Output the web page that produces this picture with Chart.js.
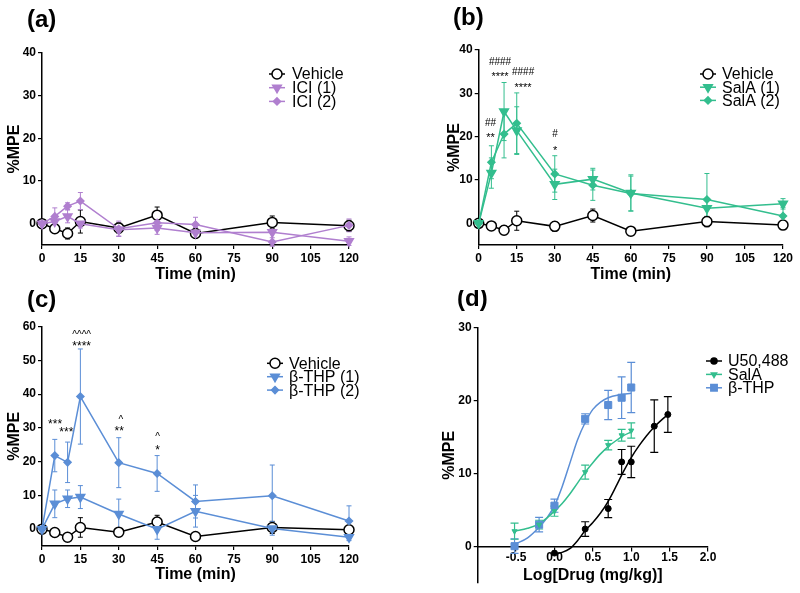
<!DOCTYPE html>
<html><head><meta charset="utf-8">
<script src="https://cdn.jsdelivr.net/npm/chart.js@4/dist/chart.umd.min.js"></script>
<style>
html,body{margin:0;padding:0;background:#fff;overflow:hidden;width:800px;height:593px;position:relative;}
.panel{position:absolute;overflow:hidden;}
.lbl{position:absolute;font-family:"Liberation Sans",Arial,sans-serif;font-weight:bold;font-size:24px;line-height:24px;color:#000;white-space:nowrap;}
canvas{display:block;}
</style></head><body>
<div class="panel" style="left:0;top:0;width:400px;height:290px"><canvas id="ca" width="400" height="290"></canvas><div class="lbl" style="left:27px;top:7px">(a)</div></div>
<div class="panel" style="left:400px;top:0;width:400px;height:290px"><canvas id="cb" width="400" height="290"></canvas><div class="lbl" style="left:53px;top:5px">(b)</div></div>
<div class="panel" style="left:0;top:290px;width:400px;height:303px"><canvas id="cc" width="400" height="303"></canvas><div class="lbl" style="left:27px;top:-3px">(c)</div></div>
<div class="panel" style="left:400px;top:290px;width:400px;height:303px"><canvas id="cd" width="400" height="303"></canvas><div class="lbl" style="left:57px;top:-4px">(d)</div></div>
<script>
const FONT = '"Liberation Sans", Arial, Helvetica, sans-serif';

// ---------- DATA ----------
const timeMin = [0, 5, 10, 15, 30, 45, 60, 90, 120];
const timeTicks = [0, 15, 30, 45, 60, 75, 90, 105, 120];

// (a)
const vehicleA    = [0, -1.2, -2.3, 0.5, -1.0, 2.0, -2.3, 0.3, -0.5];
const vehicleAErr = [0, 0.8, 1.3, 2.7, 1.2, 1.9, 1.0, 1.5, 1.3];
const ici1        = [0, 0.5, 1.7, 0.0, -1.4, -1.0, -2.1, -2.0, -4.1];
const ici1Err     = [0, 1.2, 1.5, 1.0, 1.5, 1.5, 1.2, 2.0, 1.0];
const ici2        = [0, 1.7, 4.1, 5.3, -1.2, 0.2, -0.2, -4.3, -0.4];
const ici2Err     = [0, 2.0, 0.8, 2.0, 1.8, 1.8, 1.7, 1.0, 1.5];

// (b)
const vehicleB    = [0, -0.6, -1.6, 0.6, -0.7, 1.8, -1.8, 0.4, -0.4];
const vehicleBErr = [0, 0.8, 1.0, 2.2, 1.1, 1.5, 0.4, 1.2, 0.8];
const salA1       = [0, 11.6, 25.8, 21.4, 9.0, 10.2, 7.0, 3.5, 4.5];
const salA1Err    = [0, 3.5, 6.7, 5.5, 3.5, 2.5, 4.2, 2.0, 1.2];
const salA2       = [0, 14.1, 20.6, 23.1, 11.4, 8.8, 6.9, 5.5, 1.7];
const salA2Err    = [0, 3.8, 5.5, 7.0, 4.2, 3.5, 4.0, 6.0, 2.0];
const annBText = ['##', '**', '####', '****', '####', '****', '#', '*'];
const annBX    = [4.7, 4.7, 8.4, 8.4, 17.5, 17.5, 30.1, 30.1];
const annBY    = [23.4, 20.5, 37.3, 34.5, 35.0, 32.1, 20.8, 17.5];

// (c)
const vehicleC    = [0, -1.0, -2.4, 0.5, -0.9, 2.1, -2.2, 0.5, -0.2];
const vehicleCErr = [0, 0.6, 1.0, 2.9, 1.3, 2.0, 0.6, 1.8, 1.0];
const thp1        = [0, 7.5, 9.0, 9.5, 4.5, 0.0, 5.3, 0.2, -2.4];
const thp1Err     = [0, 4.1, 2.6, 3.4, 4.4, 3.0, 4.7, 2.0, 1.0];
const thp2        = [0, 21.8, 19.8, 39.3, 19.7, 16.5, 8.2, 9.9, 2.4];
const thp2Err     = [0, 4.8, 6.0, 14.1, 7.4, 5.3, 4.9, 9.1, 4.5];
const annCText = ['***', '***', '^^^^', '****', '^', '**', '^', '*'];
const annCX    = [5.1, 9.5, 15.5, 15.5, 30.8, 30.2, 45.2, 45.2];
const annCY    = [32.1, 29.6, 58.2, 55.1, 32.9, 30.0, 27.9, 24.4];

// (d) dose-response
const u50LogDose = [0, 0.4, 0.7, 0.875, 1.0, 1.3, 1.477];
const u50Mpe     = [-0.9, 2.4, 5.2, 11.6, 11.6, 16.5, 18.1];
const u50Err     = [0, 1.0, 1.25, 1.7, 2.15, 3.6, 2.45];
const salLogDose = [-0.52, -0.2, 0, 0.4, 0.7, 0.875, 1.0];
const salMpe     = [2.1, 3.0, 4.85, 10.2, 13.9, 15.25, 15.9];
const salErr     = [1.1, 0.6, 0.7, 0.95, 0.65, 0.8, 1.05];
const thpLogDose = [-0.52, -0.2, 0, 0.4, 0.7, 0.875, 1.0];
const thpMpe     = [0.05, 3.0, 5.6, 17.5, 19.4, 20.4, 21.8];
const thpErr     = [1.0, 1.0, 0.9, 0.7, 2.0, 2.85, 3.45];
// fitted curves
const u50FitX = [0, 0.1, 0.2, 0.3, 0.4, 0.5, 0.6, 0.7, 0.8, 0.9, 1.0, 1.1, 1.2, 1.3, 1.4, 1.48];
const u50FitY = [-1.0, -0.8, -0.3, 0.8, 2.2, 3.3, 4.6, 6.2, 8.2, 10.3, 12.2, 13.8, 15.2, 16.4, 17.4, 18.1];
const salFitX = [-0.52, -0.35, -0.2, -0.1, 0, 0.1, 0.2, 0.3, 0.4, 0.5, 0.6, 0.7, 0.8, 0.9, 1.0];
const salFitY = [2.1, 2.5, 3.1, 3.9, 4.85, 5.9, 7.2, 8.7, 10.2, 11.5, 12.7, 13.7, 14.5, 15.2, 15.7];
const thpFitX = [-0.52, -0.35, -0.2, -0.1, 0, 0.1, 0.2, 0.3, 0.4, 0.5, 0.6, 0.7, 0.85, 1.0];
const thpFitY = [0.3, 1.2, 2.65, 3.9, 5.6, 8.2, 11.4, 14.6, 17.0, 18.8, 19.8, 20.4, 20.8, 21.0];

// ---------- STYLE ----------
const PURPLE = '#B07FCF', GREEN = '#33BE8E', BLUE = '#5B8ED6', BLACK = '#000000';

Chart.defaults.font.family = FONT;
Chart.defaults.color = '#000';

const errorBars = {
  id: 'errorBars',
  beforeDatasetsDraw(chart, args, o) {
    const ctx = chart.ctx, xs = chart.scales.x, ys = chart.scales.y;
    const cap = o.cap || 2.5;
    chart.data.datasets.slice().reverse().forEach(ds => {
      if (!ds.errors) return;
      ctx.save();
      ctx.strokeStyle = ds.errColor || ds.borderColor;
      ctx.lineWidth = o.width || 1;
      ds.data.forEach((p, i) => {
        const e = ds.errors[i]; if (!e) return;
        const x = xs.getPixelForValue(p.x);
        const yt = ys.getPixelForValue(p.y + e), yb = ys.getPixelForValue(p.y - e);
        ctx.beginPath();
        ctx.moveTo(x, yt); ctx.lineTo(x, yb);
        ctx.moveTo(x - cap, yt); ctx.lineTo(x + cap, yt);
        ctx.moveTo(x - cap, yb); ctx.lineTo(x + cap, yb);
        ctx.stroke();
      });
      ctx.restore();
    });
  }
};

const annot = {
  id: 'annot',
  afterDatasetsDraw(chart, args, o) {
    if (!o.text) return;
    const ctx = chart.ctx, xs = chart.scales.x, ys = chart.scales.y;
    ctx.save(); ctx.fillStyle = '#000'; ctx.textAlign = 'center'; ctx.textBaseline = 'alphabetic';
    o.text.forEach((t, i) => {
      const size = t[0] === '#' ? o.hashSize : (t[0] === '^' ? o.caretSize : o.size);
      ctx.font = size + 'px ' + FONT;
      const k = t[0] === '*' ? 0.58 : (t[0] === '^' ? 0.52 : 0.36);
      ctx.fillText(t, xs.getPixelForValue(o.xs[i]), ys.getPixelForValue(o.ys[i]) + k * size);
    });
    ctx.restore();
  }
};

function marker(ctx, style, r, rot, x, y) {
  if (Chart.helpers && Chart.helpers.drawPoint) {
    Chart.helpers.drawPoint(ctx, {pointStyle: style, radius: r, rotation: rot, borderWidth: 1.5}, x, y);
    return;
  }
  ctx.beginPath(); ctx.arc(x, y, r, 0, Math.PI * 2); ctx.fill(); ctx.stroke();
}

const customLegend = {
  id: 'customLegend',
  afterDraw(chart, args, o) {
    const ctx = chart.ctx;
    ctx.save();
    o.order.forEach((idx, k) => {
      const ds = chart.data.datasets[idx];
      const y = o.y + k * o.dy;
      ctx.strokeStyle = ds.borderColor; ctx.lineWidth = 1.5;
      ctx.beginPath(); ctx.moveTo(o.x, y); ctx.lineTo(o.x + o.w, y); ctx.stroke();
      ctx.fillStyle = ds.pointBackgroundColor; ctx.strokeStyle = ds.pointBorderColor || ds.borderColor;
      marker(ctx, ds.pointStyle, ds.legendRadius || ds.pointRadius, ds.pointRotation || 0, o.x + o.w / 2, y);
      ctx.fillStyle = '#000'; ctx.font = o.size + 'px ' + FONT; ctx.textBaseline = 'middle'; ctx.textAlign = 'left';
      ctx.fillText(ds.legendLabel || ds.label, o.x + o.w + o.gap, y + 1);
    });
    ctx.restore();
  }
};

function series(label, values, errs, color, style, radius, rot, fill) {
  return {
    label, data: values.map((v, i) => ({x: timeMin[i], y: v})), errors: errs,
    borderColor: color, backgroundColor: fill, errColor: color,
    pointStyle: style, pointRadius: radius, pointRotation: rot,
    pointBorderColor: color, pointBackgroundColor: fill, pointBorderWidth: 1.5,
    borderWidth: 1.5, tension: 0, clip: false
  };
}

const tickFont = {family: FONT, size: 12, weight: 'bold'};
const titleFont = {family: FONT, size: 16, weight: 'bold'};

function yAxis(min, max, step, width, titlePad, minTick) {
  return {
    type: 'linear', min, max,
    ticks: {stepSize: step, color: '#000', font: tickFont, padding: 2},
    afterBuildTicks: s => { s.ticks = s.ticks.filter(t => t.value >= minTick - 1e-9); },
    afterFit: s => { s.width = width; },
    grid: {drawOnChartArea: false, drawTicks: true, tickLength: 4, color: '#000', lineWidth: 1.2},
    border: {display: true, color: '#000', width: 1.5},
    title: {display: true, text: '%MPE', color: '#000', font: titleFont, padding: {top: titlePad, bottom: 0}}
  };
}
function xTime(height, titlePad) {
  return {
    type: 'linear', min: 0, max: 120,
    afterBuildTicks: s => { s.ticks = timeTicks.map(v => ({value: v})); },
    ticks: {stepSize: 15, color: '#000', font: tickFont, padding: 2, autoSkip: false, maxRotation: 0},
    afterFit: s => { s.height = height; },
    grid: {drawOnChartArea: false, drawTicks: true, tickLength: 4, color: '#000', lineWidth: 1.2},
    border: {display: true, color: '#000', width: 1.5},
    title: {display: true, text: 'Time (min)', color: '#000', font: titleFont, padding: {top: 0, bottom: titlePad}}
  };
}

function timeChart(id, datasets, pad, yMax, yW, xH, yTitlePad, xTitlePad, legend, ann) {
  return new Chart(document.getElementById(id), {
    type: 'line',
    data: {datasets},
    options: {
      responsive: false, animation: false, devicePixelRatio: 1,
      layout: {padding: pad},
      scales: {x: xTime(xH, xTitlePad), y: yAxis(-5, yMax, 10, yW, yTitlePad, 0)},
      plugins: {legend: {display: false}, tooltip: {enabled: false},
        errorBars: {cap: 2.5, width: 1}, customLegend: legend, annot: ann || {}}
    },
    plugins: [errorBars, annot, customLegend]
  });
}

// (a)
timeChart('ca', [
  series('ICI (2)', ici2, ici2Err, PURPLE, 'rectRot', 3.5, 0, PURPLE),
  series('ICI (1)', ici1, ici1Err, PURPLE, 'triangle', 5, 180, PURPLE),
  series('Vehicle', vehicleA, vehicleAErr, BLACK, 'circle', 5, 0, '#fff')
], {top: 53, right: 51, bottom: 0, left: 0}, 40, 42, 45, 5.4, 5.4,
  {order: [2, 1, 0], x: 269, w: 16, gap: 7, y: 74, dy: 13.7, size: 16});

// (b)
timeChart('cb', [
  series('SalA (2)', salA2, salA2Err, GREEN, 'rectRot', 3.5, 0, GREEN),
  series('SalA (1)', salA1, salA1Err, GREEN, 'triangle', 5, 180, GREEN),
  series('Vehicle', vehicleB, vehicleBErr, BLACK, 'circle', 5, 0, '#fff')
], {top: 50, right: 17, bottom: 0, left: 0}, 40, 78.7, 45, 45.4, 5.4,
  {order: [2, 1, 0], x: 300, w: 16, gap: 6, y: 74, dy: 13.2, size: 16},
  {text: annBText, xs: annBX, ys: annBY, size: 11, hashSize: 10, caretSize: 10});

// (c)
timeChart('cc', [
  series('\u03B2-THP (2)', thp2, thp2Err, BLUE, 'rectRot', 3.5, 0, BLUE),
  series('\u03B2-THP (1)', thp1, thp1Err, BLUE, 'triangle', 5, 180, BLUE),
  series('Vehicle', vehicleC, vehicleCErr, BLACK, 'circle', 5, 0, '#fff')
], {top: 36.7, right: 51, bottom: 0, left: 0}, 60, 42, 47, 5.4, 8.4,
  {order: [2, 1, 0], x: 267, w: 16, gap: 6, y: 73.3, dy: 13.4, size: 16},
  {text: annCText, xs: annCX, ys: annCY, size: 12, hashSize: 10, caretSize: 10});

// (d)
function pts(xs, ys) { return xs.map((x, i) => ({x, y: ys[i]})); }
function doseSet(label, xs, ys, errs, color, style, r, rot, lr) {
  return {label, data: pts(xs, ys), errors: errs, showLine: false, borderColor: color, errColor: color,
    pointStyle: style, pointRadius: r, pointRotation: rot, pointBackgroundColor: color, pointBorderColor: color,
    pointBorderWidth: 1, legendRadius: lr, clip: false};
}
function fitSet(xs, ys, color) {
  return {label: '', data: pts(xs, ys), borderColor: color, borderWidth: 1.5, pointRadius: 0,
    cubicInterpolationMode: 'monotone', fill: false};
}
new Chart(document.getElementById('cd'), {
  type: 'line',
  data: {datasets: [
    doseSet('U50,488', u50LogDose, u50Mpe, u50Err, BLACK, 'circle', 3, 0, 3),
    doseSet('SalA', salLogDose, salMpe, salErr, GREEN, 'triangle', 3, 180, 3),
    doseSet('\u03B2-THP', thpLogDose, thpMpe, thpErr, BLUE, 'rect', 5, 0, 4.5),
    fitSet(u50FitX, u50FitY, BLACK),
    fitSet(salFitX, salFitY, GREEN),
    fitSet(thpFitX, thpFitY, BLUE)
  ]},
  options: {
    responsive: false, animation: false, devicePixelRatio: 1,
    layout: {padding: {top: 37.7, right: 92, bottom: 10, left: 0}},
    scales: {
      x: {
        type: 'linear', min: -1, max: 2, position: {y: 0},
        afterBuildTicks: s => { s.ticks = s.ticks.filter(t => t.value > -0.75); },
        ticks: {stepSize: 0.5, color: '#000', font: tickFont, padding: 0, autoSkip: false, maxRotation: 0,
          callback: v => Number(v).toFixed(1)},
        afterFit: s => { s.height = 47; },
        grid: {drawOnChartArea: false, drawTicks: true, tickLength: 4, color: '#000', lineWidth: 1.2},
        border: {display: true, color: '#000', width: 1.5},
        title: {display: true, text: 'Log[Drug (mg/kg)]', color: '#000', font: titleFont, padding: {top: 0, bottom: 7.9}}
      },
      y: yAxis(-5, 30, 10, 77.7, 39.7, 0)
    },
    plugins: {legend: {display: false}, tooltip: {enabled: false},
      errorBars: {cap: 4, width: 1.2},
      customLegend: {order: [0, 1, 2], x: 306, w: 16, gap: 6, y: 71, dy: 13.4, size: 16}}
  },
  plugins: [errorBars, customLegend]
});
</script>
</body></html>
